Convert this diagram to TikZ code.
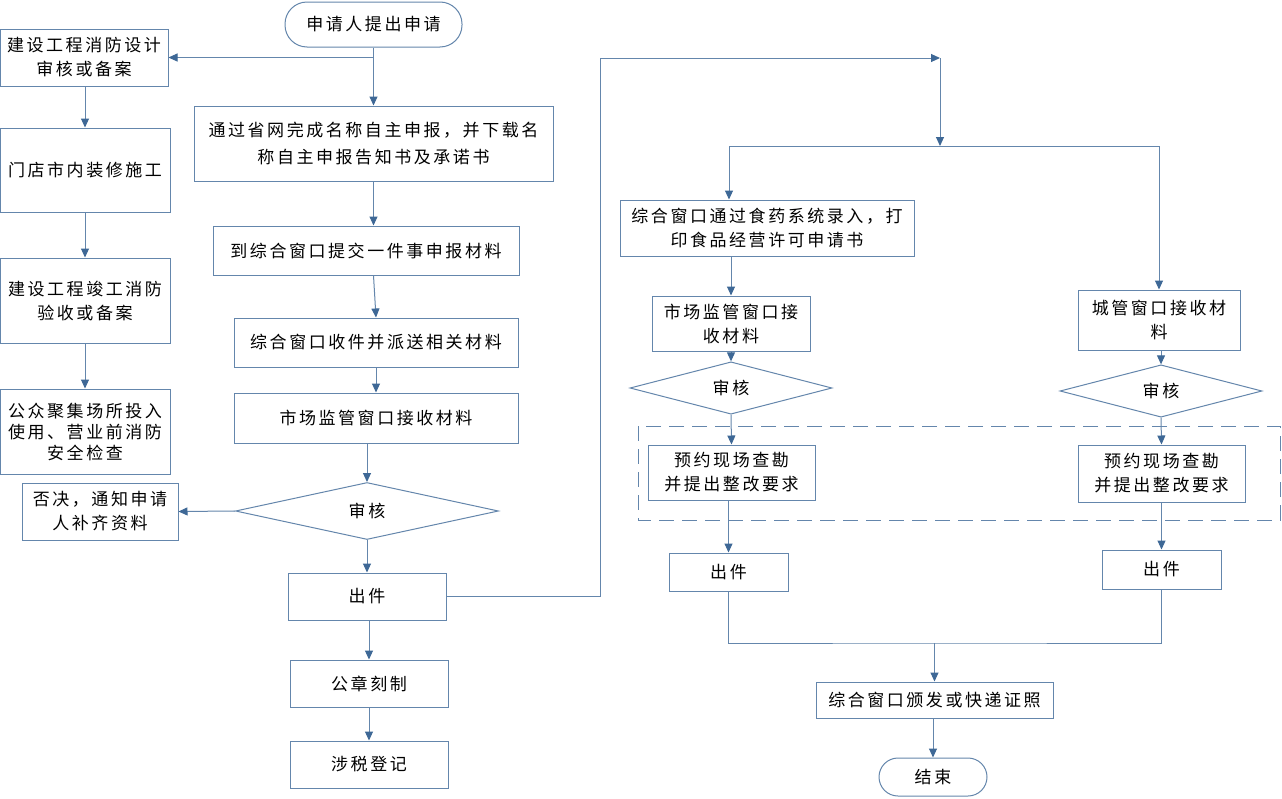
\documentclass[tikz,border=0pt]{standalone}
\usepackage{fontspec}
\newfontfamily\cjk[LetterSpace=15]{Noto Sans CJK SC}
\usetikzlibrary{arrows.meta,shapes.geometric}
\definecolor{bline}{RGB}{100,134,172}
\definecolor{barrow}{RGB}{62,104,150}
\begin{document}
\begin{tikzpicture}[x=1pt,y=-1pt,
  font=\cjk\fontsize{17}{24}\selectfont,
  box/.style={draw=bline,line width=1pt,align=center,inner sep=0pt,fill=white},
  term/.style={box,rounded corners=#1},
  dia/.style={draw=bline,line width=1pt,diamond,align=center,inner sep=0pt,fill=white},
  ln/.style={draw=bline,line width=1pt},
  arr/.style={ln,-{Triangle[length=9pt,width=8pt,color=barrow]}},
  dbox/.style={draw=bline,line width=1pt,dash pattern=on 15pt off 8pt}]
\useasboundingbox[fill=white] (0,0) rectangle (1282,798);

% dashed group
\draw[dbox] (638,426) rectangle (1280,520);

% left column
\node[term=22,minimum width=177,minimum height=45] (st) at (373.5,24.5) {申请人提出申请};
\node[box,minimum width=168,minimum height=57] (a1) at (84,57.5) {建设工程消防设计\\审核或备案};
\node[box,minimum width=170,minimum height=84] (a2) at (85,170) {门店市内装修施工};
\node[box,minimum width=170,minimum height=85] (a3) at (85,300.5) {建设工程竣工消防\\验收或备案};
\node[box,minimum width=170,minimum height=85,font=\cjk\fontsize{17}{21}\selectfont] (a4) at (85,431.5) {公众聚集场所投入\\使用、营业前消防\\安全检查};

% middle column
\node[box,minimum width=359,minimum height=75,font=\cjk\fontsize{17}{27}\selectfont] (b1) at (373.5,143.5) {通过省网完成名称自主申报，并下载名\\称自主申报告知书及承诺书};
\node[box,minimum width=306,minimum height=49] (b2) at (366,250.5) {到综合窗口提交一件事申报材料};
\node[box,minimum width=284,minimum height=49] (b3) at (376,342.5) {综合窗口收件并派送相关材料};
\node[box,minimum width=284,minimum height=50] (b4) at (376,418) {市场监管窗口接收材料};
\node[dia,minimum width=263,minimum height=57] (dd) at (367,511) {审核};
\node[box,minimum width=156,minimum height=57] (rj) at (100,511.5) {否决，通知申请\\人补齐资料};
\node[box,minimum width=158,minimum height=47] (c1) at (367,596.5) {出件};
\node[box,minimum width=158,minimum height=47] (c2) at (369,683.5) {公章刻制};
\node[box,minimum width=158,minimum height=47] (c3) at (369,764.5) {涉税登记};

% right part
\node[box,minimum width=294,minimum height=56] (d1) at (767,228) {综合窗口通过食药系统录入，打\\印食品经营许可申请书};
\node[box,minimum width=158,minimum height=55] (d2) at (731,323.5) {市场监管窗口接\\收材料};
\node[dia,minimum width=202,minimum height=44] (d3) at (731,388) {审核};
\node[box,minimum width=167,minimum height=55] (d4) at (731.5,472.5) {预约现场查勘\\并提出整改要求};
\node[box,minimum width=119,minimum height=38] (d5) at (728.5,572) {出件};
\node[box,minimum width=162,minimum height=60] (e1) at (1159,320) {城管窗口接收材\\料};
\node[dia,minimum width=202,minimum height=38] (e2) at (1161,391) {审核};
\node[box,minimum width=167,minimum height=57] (e3) at (1161.5,473.5) {预约现场查勘\\并提出整改要求};
\node[box,minimum width=119,minimum height=39] (e4) at (1161.5,569.5) {出件};
\node[box,minimum width=237,minimum height=36] (f1) at (934.5,700) {综合窗口颁发或快递证照};
\node[term=19,minimum width=108,minimum height=38] (en) at (933,777) {结束};

% connectors left/middle
\coordinate (sj) at (st.south |- a1.east);
\draw[arr] (st.south) -- (b1.north);
\draw[arr] (sj) -- (a1.east);
\draw[arr] (a1.south -| a3.north) -- (a2.north);
\draw[arr] (a2.south) -- (a3.north);
\draw[arr] (a3.south) -- (a4.north);
\draw[arr] (b1.south) -- (b1.south |- b2.north);
\draw[arr] (b1.south |- b2.south) -- (b3.north);
\draw[arr] (b3.south) -- (b4.south |- b4.north);
\draw[arr] (dd.north |- b4.south) -- (dd.north);
\draw[arr] (dd.west) -- (rj.east);
\draw[arr] (dd.south) -- (c1.north);
\draw[arr] (c2.north |- c1.south) -- (c2.north);
\draw[arr] (c2.south) -- (c3.north);

% connectors to right part
\coordinate (t1) at (600,58);
\coordinate (t2) at (940,58);
\coordinate (t3) at (940,146);
\coordinate (hl) at (729,146);
\coordinate (hr) at (e1.north |- t3);
\draw[ln] (c1.east) -| (t1);
\draw[arr] (t1) -- (t2);
\draw[arr] (t2) -- (t3);
\draw[ln] (hl) -- (hr);
\draw[arr] (hl) -- (hl |- d1.north);
\draw[arr] (hr) -- (e1.north);
\draw[arr] (d2.north |- d1.south) -- (d2.north);
\draw[arr] (d2.south) -- (d3.north);
\draw[arr] (d3.south) -- (d4.north);
\draw[arr] (d5.north |- d4.south) -- (d5.north);
\draw[arr] (e1.south -| e2.north) -- (e2.north);
\draw[arr] (e2.south) -- (e3.north);
\draw[arr] (e3.south) -- (e4.north);
\coordinate (mj) at (f1.north |- 0,643);
\draw[ln] (d5.south) |- (mj) -| (e4.south);
\draw[arr] (mj) -- (f1.north);
\draw[arr] (f1.south -| en.north) -- (en.north);
\end{tikzpicture}
\end{document}
